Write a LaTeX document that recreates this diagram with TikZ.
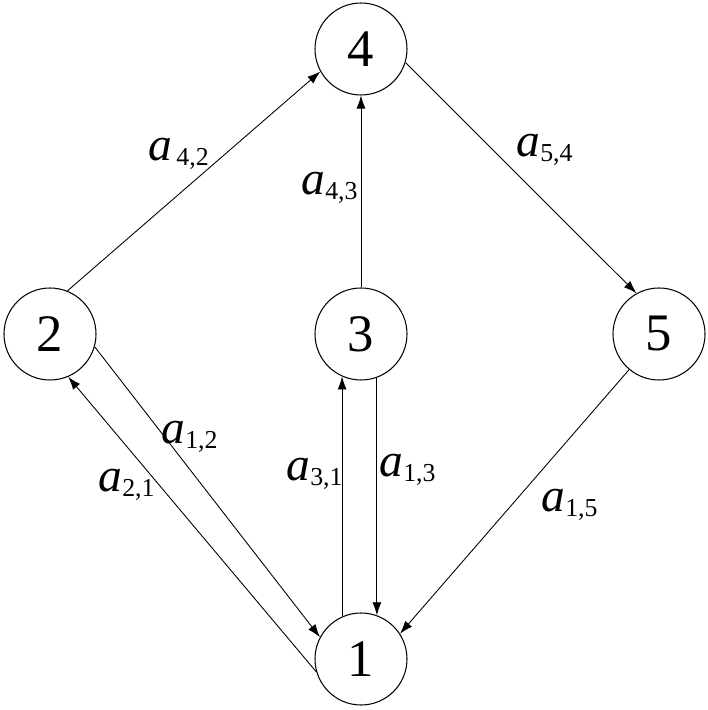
\documentclass[tikz,border=0pt]{standalone}
\usepackage{fontspec}
\setmainfont{Liberation Serif}
\usetikzlibrary{arrows.meta}
\newcommand{\wa}[1]{{\fontsize{27}{27}\selectfont\textit{a}}{\fontsize{21}{21}\selectfont\textsubscript{#1}}}

\begin{document}
\begin{tikzpicture}[
    vertex/.style={draw, circle, minimum size=1.84cm, inner sep=0pt, line width=0.6pt,
        font=\fontsize{30}{30}\selectfont},
    arc/.style={-{Latex[length=2.6mm, width=1.8mm]}, line width=0.5pt},
    wt/.style={inner sep=1pt},
]
\useasboundingbox (0,0) rectangle (14.14,14.2);

% ---- nodos ----
\node[vertex] (n4) at (7.22,13.22) {4};
\node[vertex] (n2) at (1.0,7.52) {2};
\node[vertex] (n3) at (7.22,7.52) {3};
\node[vertex] (n5) at (13.18,7.52) {5};
\node[vertex] (n1) at (7.22,1.02) {1};

% ---- arcos ----
\draw[arc] (n2.68) -- (n4.209);
\draw[arc] (n3.north) -- (n4.south);
\draw[arc] (n4.-17) -- (n5.119);
\draw[arc] (n5.230) -- (n1.33);
\draw[arc] (n2.-16) -- (n1.152);
\draw[arc] (n1.196) -- (n2.-67);
\draw[arc] (n1.114) -- (n3.246);
\draw[arc] (n3.290) -- (n1.70);

% ---- pesos ----
\node[wt] (w42) at (3.58,11.12) {\wa{\,4,2}};
\node[wt] (w54) at (10.9,11.2) {\wa{5,4}};
\node[wt] (w43) at (6.6,10.44) {\wa{4,3}};
\node[wt] (w12) at (3.8,5.46) {\wa{1,2}};
\node[wt] (w21) at (2.54,4.5) {\wa{2,1}};
\node[wt] (w31) at (6.3,4.72) {\wa{3,1}};
\node[wt] (w13) at (8.16,4.8) {\wa{1,3}};
\node[wt] (w15) at (11.4,4.1) {\wa{1,5}};

\end{tikzpicture}
\end{document}
